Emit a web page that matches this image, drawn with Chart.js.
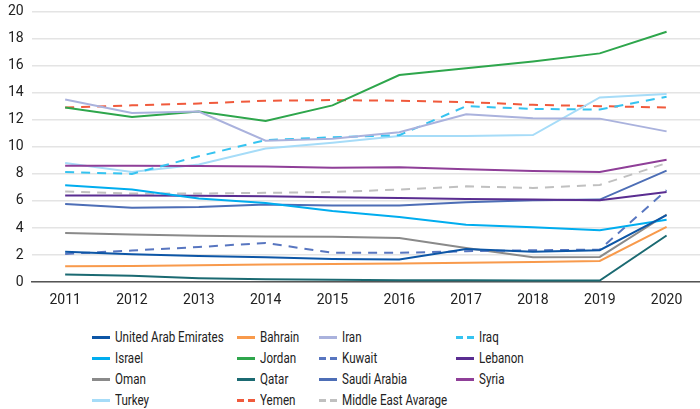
<!DOCTYPE html>
<html>
<head>
<meta charset="utf-8">
<script src="https://cdn.jsdelivr.net/npm/chart.js@4.4.1/dist/chart.umd.min.js"></script>
<style>
  body { margin: 0; background: #fff; width: 700px; height: 409px; overflow: hidden; position: relative; }
  #wrap { position: absolute; left: 0; top: -5px; width: 700px; height: 324px; }
  #legend { position: absolute; left: 92px; top: 327px; display: grid;
    grid-template-columns: 145px 82px 137px 150px; grid-auto-rows: 21px; }
  .item { display: flex; align-items: center; height: 21px; white-space: nowrap; }
  .mark { width: 18px; height: 3px; margin-right: 5px; flex: none; }
  .txt { font-family: Roboto, sans-serif; font-size: 14.5px; color: #222; display: inline-block;
    transform: scaleX(0.8); transform-origin: left center; }
</style>
</head>
<body>
<div id="wrap"><canvas id="chart-mena-lines"></canvas></div>
<div id="legend"></div>
<script>
const years = ['2011', '2012', '2013', '2014', '2015', '2016', '2017', '2018', '2019', '2020'];

const uae     = [2.24, 2.07, 1.93, 1.85, 1.72, 1.67, 2.46, 2.24, 2.36, 4.95];
const bahrain = [1.18, 1.2, 1.25, 1.3, 1.35, 1.38, 1.43, 1.5, 1.57, 4.08];
const iran    = [13.5, 12.5, 12.6, 10.45, 10.6, 11.07, 12.4, 12.1, 12.08, 11.14];
const iraq    = [8.14, 8.0, 9.3, 10.5, 10.7, 10.85, 13.0, 12.8, 12.75, 13.7];
const israel  = [7.16, 6.84, 6.18, 5.85, 5.25, 4.82, 4.25, 4.06, 3.84, 4.62];
const jordan  = [12.9, 12.2, 12.6, 11.9, 13.06, 15.3, 15.8, 16.3, 16.9, 18.5];
const kuwait  = [2.09, 2.34, 2.6, 2.9, 2.17, 2.17, 2.29, 2.36, 2.41, 6.8];
const lebanon = [6.4, 6.4, 6.38, 6.35, 6.27, 6.22, 6.15, 6.1, 6.05, 6.66];
const oman    = [3.64, 3.52, 3.43, 3.37, 3.35, 3.27, 2.53, 1.85, 1.87, 5.0];
const qatar   = [0.57, 0.48, 0.3, 0.22, 0.18, 0.15, 0.14, 0.13, 0.12, 3.45];
const saudi   = [5.78, 5.49, 5.55, 5.73, 5.66, 5.66, 5.9, 6.05, 6.1, 8.24];
const syria   = [8.6, 8.6, 8.58, 8.54, 8.46, 8.49, 8.34, 8.22, 8.14, 9.05];
const turkey  = [8.8, 8.14, 8.7, 9.87, 10.3, 10.8, 10.8, 10.87, 13.65, 13.9];
const yemen   = [12.9, 13.06, 13.2, 13.4, 13.45, 13.4, 13.3, 13.1, 13.0, 12.9];
const meAvg   = [6.7, 6.55, 6.55, 6.6, 6.66, 6.84, 7.08, 6.96, 7.18, 8.8];

const yTicks = [0, 2, 4, 6, 8, 10, 12, 14, 16, 18, 20];

function line(label, data, color, dashed) {
  return {
    label: label,
    data: data,
    borderColor: color,
    backgroundColor: color,
    borderWidth: 2,
    borderDash: dashed ? [9, 7] : [],
    pointRadius: 0,
    tension: 0,
    fill: false
  };
}

const ctx = document.getElementById('chart-mena-lines');
const chart = new Chart(ctx, {
  type: 'line',
  data: {
    labels: years,
    datasets: [
      line('United Arab Emirates', uae, '#0d56a6', false),
      line('Bahrain', bahrain, '#f89a4c', false),
      line('Iran', iran, '#aab2dd', false),
      line('Iraq', iraq, '#35c3f0', true),
      line('Israel', israel, '#00adef', false),
      line('Jordan', jordan, '#2ea64c', false),
      line('Kuwait', kuwait, '#5876c0', true),
      line('Lebanon', lebanon, '#5a2d91', false),
      line('Oman', oman, '#8a8a8a', false),
      line('Qatar', qatar, '#1b6a72', false),
      line('Saudi Arabia', saudi, '#4d6eb6', false),
      line('Syria', syria, '#8f3f98', false),
      line('Turkey', turkey, '#a6dcf8', false),
      line('Yemen', yemen, '#f05a3c', true),
      line('Middle East Avarage', meAvg, '#c0c0c0', true)
    ]
  },
  options: {
    responsive: true,
    maintainAspectRatio: false,
    animation: false,
    layout: { padding: { top: 2, right: 0, left: 0, bottom: 0 } },
    plugins: { legend: { display: false }, tooltip: { enabled: false } },
    scales: {
      x: {
        offset: true,
        grid: { display: false, drawTicks: false },
        border: { display: true, color: '#555', width: 1.5 },
        ticks: { color: '#222', padding: 10, font: { family: 'Roboto', size: 14 } }
      },
      y: {
        min: 0,
        max: 20,
        afterBuildTicks: axis => { axis.ticks = yTicks.map(v => ({ value: v })); },
        grid: { color: '#e4e4e4', lineWidth: 1.5, drawTicks: false },
        border: { display: false },
        ticks: { color: '#222', padding: 8, font: { family: 'Roboto', size: 14 } }
      }
    }
  }
});

// legend in 4 aligned columns
const legend = document.getElementById('legend');
chart.data.datasets.forEach(ds => {
  const item = document.createElement('div');
  item.className = 'item';
  const mark = document.createElement('span');
  mark.className = 'mark';
  if (ds.borderDash.length) {
    mark.style.background = 'repeating-linear-gradient(to right, ' + ds.borderColor + ' 0 7px, transparent 7px 11px)';
  } else {
    mark.style.background = ds.borderColor;
  }
  const txt = document.createElement('span');
  txt.className = 'txt';
  txt.textContent = ds.label;
  item.appendChild(mark);
  item.appendChild(txt);
  legend.appendChild(item);
});
</script>
</body>
</html>
